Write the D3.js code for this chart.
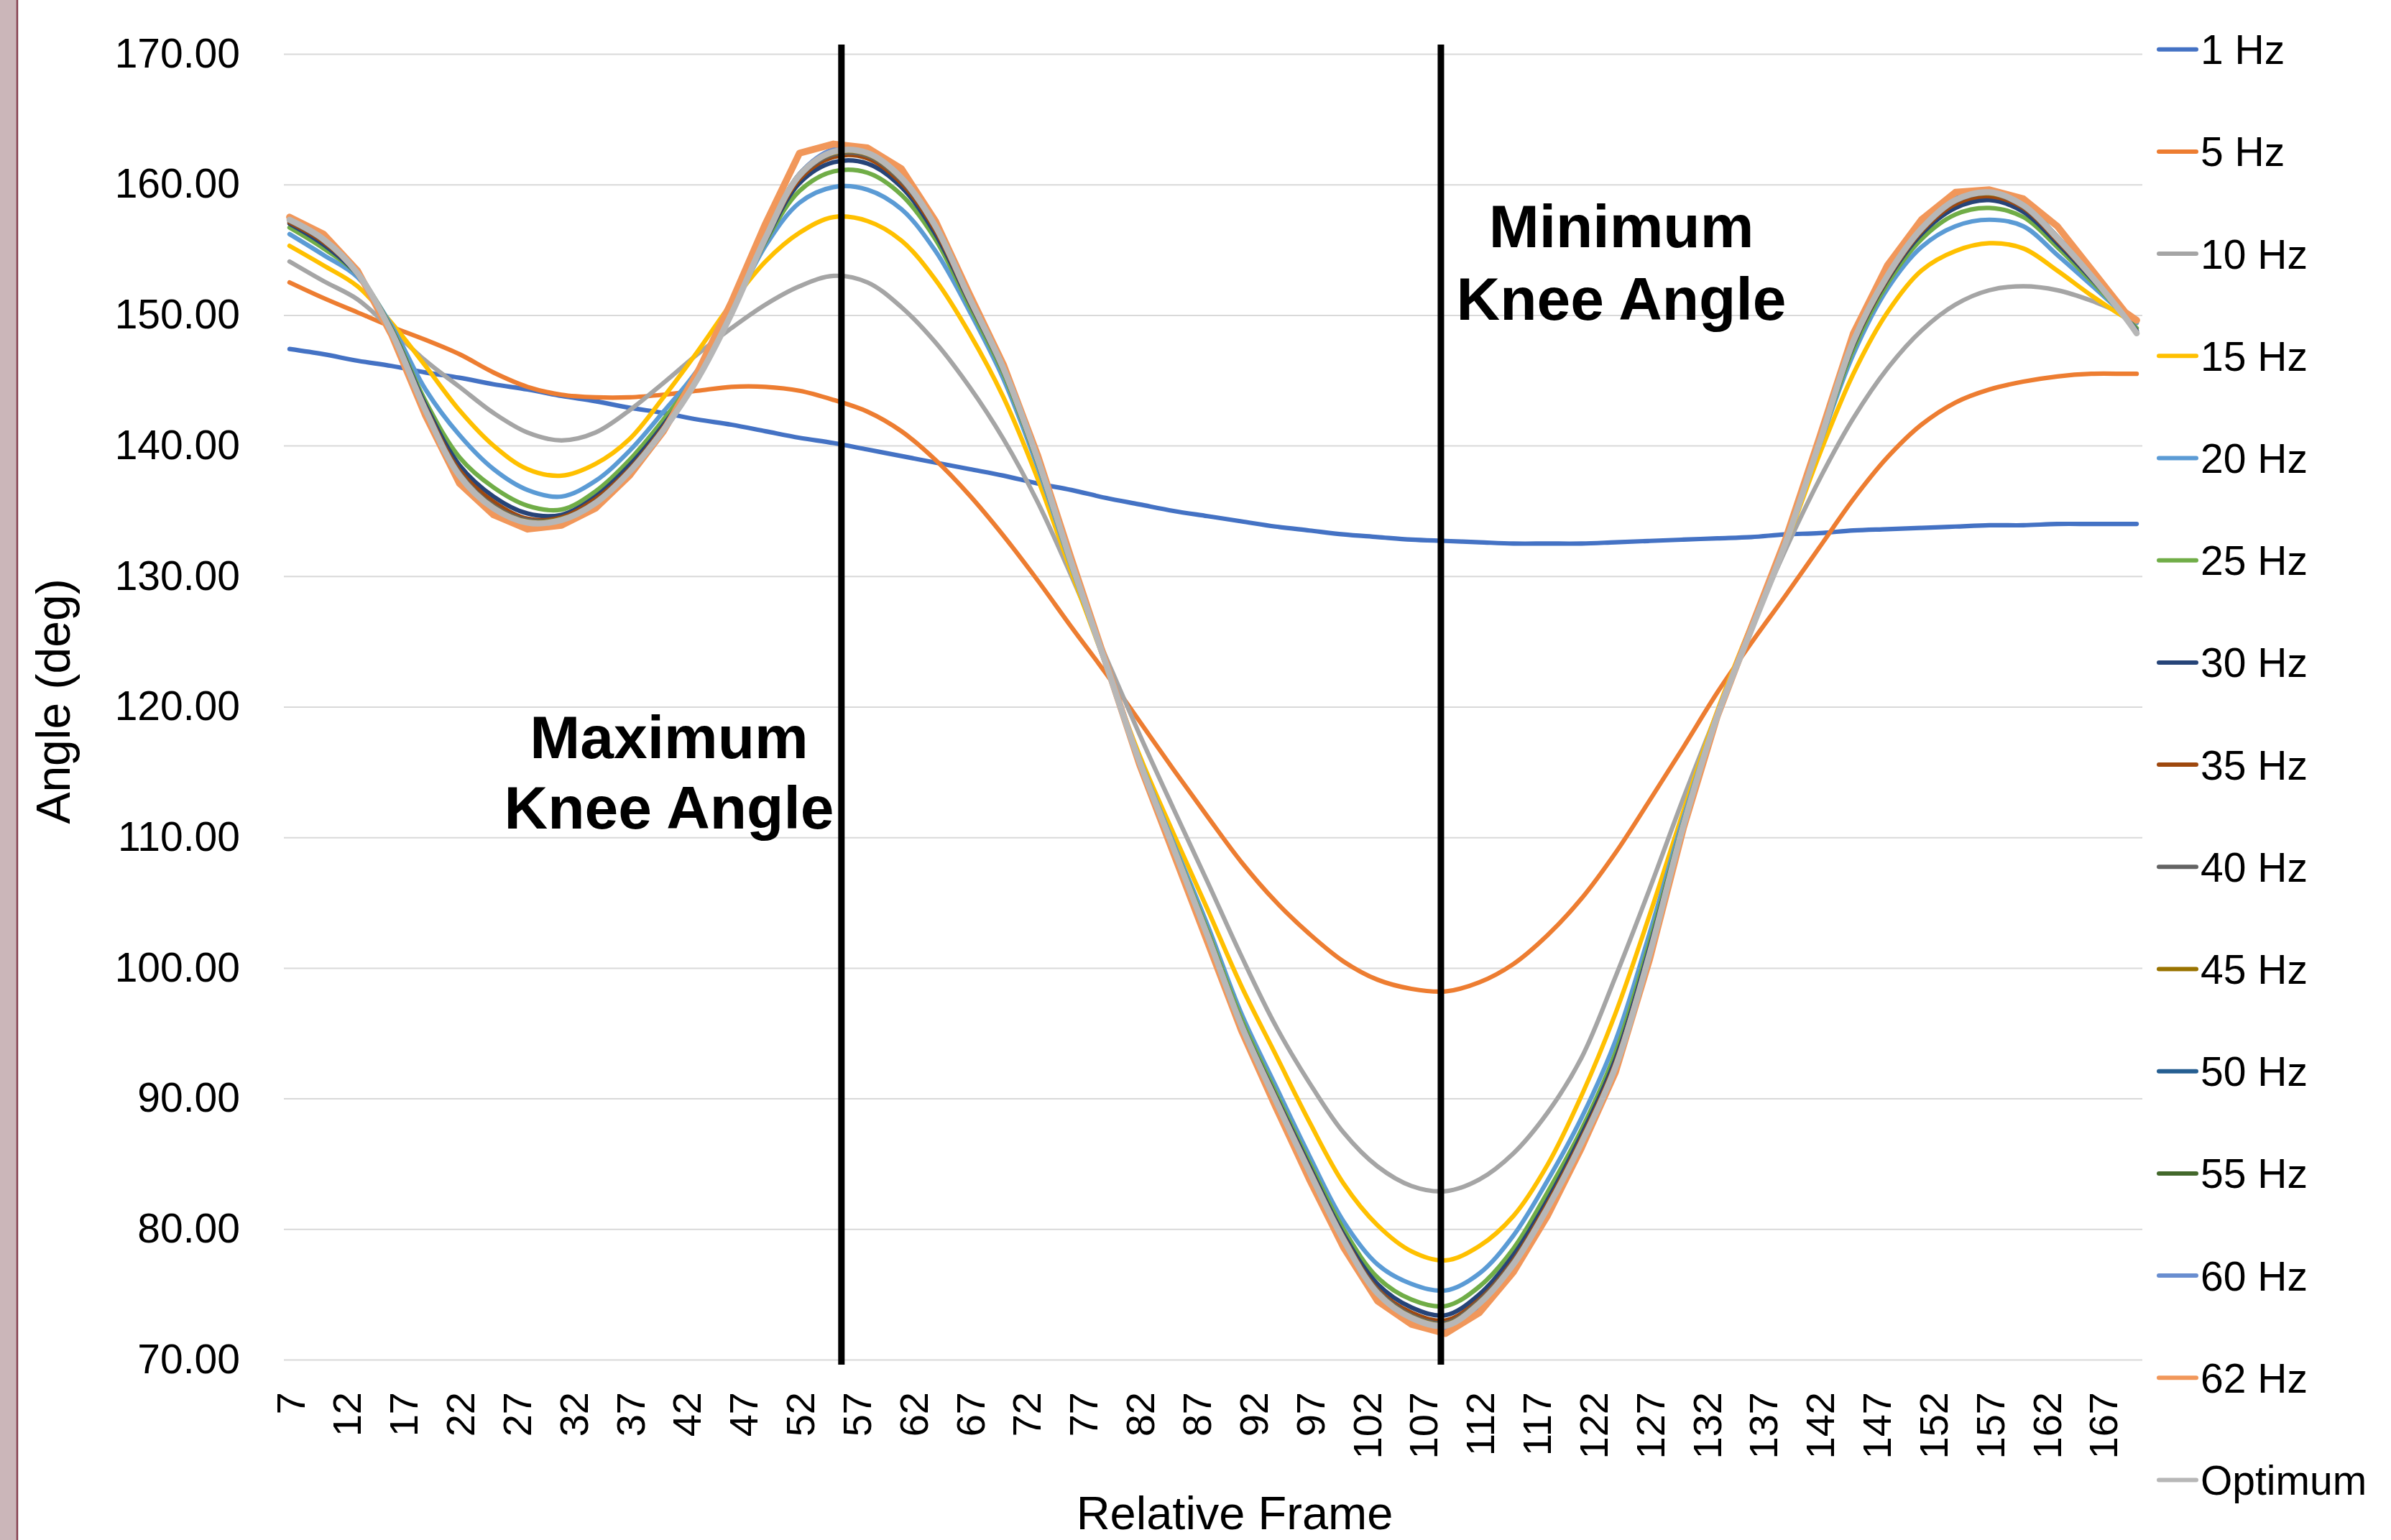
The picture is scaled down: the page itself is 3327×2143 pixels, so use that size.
<!DOCTYPE html>
<html><head><meta charset="utf-8">
<script src="https://cdn.jsdelivr.net/npm/d3@7"></script>
<style>html,body{margin:0;padding:0;background:#fff;} svg{display:block;}</style>
</head><body>
<svg id="c" width="3327" height="2143"></svg>
<script>
// ---------- DATA ----------
const frames = [7,10,13,16,19,22,25,28,31,34,37,40,43,46,49,52,55,58,61,64,67,70,73,76,79,82,85,88,91,94,97,100,103,106,109,112,115,118,121,124,127,130,133,136,139,142,145,148,151,154,157,160,163,166,169,170];

const hz1  = [147.4,147.0,146.5,146.1,145.6,145.2,144.7,144.3, 143.8,143.4,142.9,142.5,142.0,141.6,141.1,140.6, 140.2,139.7,139.2,138.7,138.2,137.7,137.1,136.6, 136.0,135.5,135.0,134.6,134.2,133.8,133.5,133.2, 133.0,132.8,132.7,132.6,132.5,132.5,132.5,132.6, 132.7,132.8,132.9,133.0,133.2,133.3,133.5,133.6, 133.7,133.8,133.9,133.9,134.0,134.0, 134.0,134.0];
const hz5  = [152.5,151.3,150.2,149.1,148.1,147.0,145.6,144.5, 143.9,143.7,143.7,143.9,144.2,144.5,144.5,144.2, 143.5,142.6,141.1,138.9,136.2,133.1,129.7,126.1, 122.6,118.9,115.2,111.6,108.1,105.1,102.6,100.5, 99.1,98.4,98.2,98.9,100.3,102.5,105.3,108.8, 112.8,116.9,121.1,124.9,128.5,132.2,135.9,139.1, 141.6,143.3,144.3,144.9,145.3,145.5, 145.5,145.5];
const hz10 = [154.1,152.6,151.2,148.9,146.5,144.5,142.5,141.0, 140.4,141.0,142.7,144.8,147.0,149.0,150.8,152.2, 153.0,152.5,150.6,147.9,144.5,140.5,135.7,130.0, 123.9,117.9,112.2,106.6,100.9,95.6,91.2,87.4, 84.8,83.3,82.9,83.8,85.8,88.9,93.1,99.3, 106.0,113.0,119.6,126.0,132.0,137.4,142.1,145.9, 148.8,150.8,151.9,152.2,151.9,151.1, 150.0,149.6];
const hz15 = [155.3,153.8,152.2,149.4,146.1,142.7,140.0,138.2, 137.7,138.6,140.5,143.7,147.2,150.9,154.1,156.3, 157.5,157.2,155.7,152.7,148.6,143.7,137.5,130.3, 123.3,116.3,110.3,104.5,98.6,93.4,88.2,83.5, 80.3,78.3,77.6,78.7,81.0,84.9,90.2,96.5, 104.0,112.0,119.7,126.3,132.4,139.3,145.5,150.2, 153.4,154.9,155.5,155.1,153.4,151.5, 149.8,149.4];
const hz20 = [156.2,154.6,152.9,149.2,144.3,140.8,138.2,136.6, 136.1,137.3,139.6,142.6,145.8,150.3,155.3,158.6, 159.8,159.6,158.1,154.9,150.3,145.1,138.4,130.7, 123.3,116.0,109.6,103.3,96.5,91.0,85.6,80.6, 77.3,75.8,75.3,76.6,79.5,83.7,88.5,94.4, 102.6,111.5,119.4,126.1,132.5,140.0,147.0,152.0, 155.2,156.8,157.3,156.8,154.6,152.3, 150.0,149.4];
const hz25 = [156.7,155.1,153.1,149.0,143.4,139.1,136.8,135.4, 135.1,136.5,138.9,142.0,145.5,150.2,155.6,159.5, 161.0,160.9,159.2,155.8,150.7,145.5,138.7,130.8, 123.3,115.9,109.4,102.9,96.1,90.5,85.1,80.0, 76.3,74.6,74.1,75.6,78.5,82.8,87.6,93.5, 101.9,111.2,119.4,126.0,132.5,140.1,147.4,152.4, 155.8,157.7,158.2,157.5,155.2,152.6, 149.9,149.0];
const hz30 = [157.0,155.4,153.1,148.9,143.1,138.5,136.1,134.8, 134.7,136.1,138.5,141.6,145.3,150.2,155.7,160.1, 161.7,161.6,159.8,156.2,151.0,145.7,138.8,130.9, 123.4,115.9,109.3,102.7,95.8,90.2,84.8,79.6, 75.8,74.0,73.4,75.0,78.0,82.2,87.2,93.0, 101.5,111.1,119.3,126.0,132.5,140.1,147.7,152.7, 156.2,158.2,158.8,157.9,155.5,152.8, 149.9,148.8];
const hz35 = [157.1,155.6,153.2,148.8,142.9,138.1,135.7,134.4, 134.5,135.9,138.2,141.4,145.2,150.1,155.8,160.4, 162.1,162.0,160.1,156.5,151.1,145.8,138.9,131.0, 123.4,115.8,109.3,102.6,95.7,90.1,84.6,79.4, 75.4,73.6,73.0,74.6,77.6,81.9,86.9,92.7, 101.2,111.0,119.3,125.9,132.5,140.2,147.8,152.8, 156.4,158.5,159.1,158.2,155.7,152.9, 149.8,148.7];
const hz40 = [157.2,155.7,153.2,148.7,142.8,137.9,135.4,134.3, 134.4,135.7,138.1,141.3,145.1,150.1,155.9,160.6, 162.3,162.2,160.3,156.7,151.2,145.8,139.0,131.0, 123.4,115.8,109.2,102.6,95.6,90.0,84.5,79.3, 75.3,73.4,72.8,74.5,77.5,81.7,86.7,92.5, 101.1,110.9,119.3,125.9,132.5,140.2,147.9,152.9, 156.5,158.7,159.3,158.3,155.8,153.0, 149.8,148.7];
const hz45 = [157.3,155.8,153.2,148.7,142.7,137.8,135.3,134.2, 134.4,135.6,138.0,141.2,145.1,150.1,155.9,160.7, 162.4,162.3,160.4,156.8,151.3,145.9,139.0,131.0, 123.4,115.8,109.2,102.5,95.6,89.9,84.4,79.2, 75.2,73.3,72.7,74.4,77.4,81.6,86.6,92.4, 101.0,110.9,119.3,125.9,132.5,140.2,148.0,153.0, 156.6,158.8,159.3,158.4,155.9,153.0, 149.8,148.6];
const hz50 = [157.3,155.8,153.2,148.7,142.7,137.7,135.2,134.1, 134.3,135.6,138.0,141.2,145.1,150.1,155.9,160.7, 162.5,162.4,160.5,156.8,151.3,145.9,139.0,131.0, 123.4,115.8,109.2,102.5,95.5,89.9,84.4,79.2, 75.1,73.2,72.6,74.3,77.3,81.6,86.6,92.4, 101.0,110.9,119.3,125.9,132.5,140.2,148.0,153.0, 156.6,158.8,159.4,158.4,155.9,153.0, 149.8,148.6];
const hz55 = [157.4,155.9,153.2,148.7,142.7,137.6,135.1,134.0, 134.2,135.5,137.9,141.2,145.1,150.1,156.0,160.8, 162.6,162.5,160.6,156.9,151.3,145.9,139.0,131.0, 123.4,115.8,109.2,102.5,95.5,89.9,84.4,79.2, 75.0,73.1,72.5,74.2,77.2,81.5,86.5,92.3, 101.0,110.9,119.3,125.9,132.5,140.2,148.0,153.0, 156.6,158.9,159.5,158.5,156.0,153.0, 149.8,148.6];
const hz60 = [157.4,155.9,153.2,148.7,142.6,137.5,135.0,133.9, 134.2,135.5,137.9,141.1,145.1,150.1,156.0,160.8, 162.7,162.6,160.7,156.9,151.4,146.0,139.0,131.0, 123.4,115.8,109.2,102.4,95.4,89.8,84.3,79.1, 75.0,73.0,72.4,74.1,77.1,81.4,86.5,92.3, 100.9,110.9,119.3,125.9,132.5,140.2,148.1,153.1, 156.7,158.9,159.5,158.5,156.0,153.1, 149.8,148.6];
const hz62 = [157.5,156.2,153.4,148.5,142.3,137.1,134.7,133.6, 133.9,135.2,137.7,141.1,145.6,151.0,157.0,162.4, 163.1,162.8,161.2,157.2,151.6,146.2,139.3,131.3, 123.5,115.6,108.8,102.0,95.2,89.4,83.8,78.6, 74.5,72.7,72.0,73.6,76.7,81.0,86.2,92.0, 100.6,110.7,119.3,126.1,132.8,140.6,148.6,153.8, 157.3,159.4,159.6,158.9,156.8,153.5, 150.2,149.6];
const optimum = [157.3,155.8,153.2,148.7,142.7,137.7,135.2,134.1, 134.3,135.6,138.0,141.2,145.1,150.1,155.9,160.7, 162.5,162.4,160.5,156.8,151.3,145.9,139.0,131.0, 123.4,115.8,109.2,102.5,95.6,89.9,84.4,79.2, 75.1,73.2,72.6,74.3,77.3,81.6,86.6,92.4, 101.0,110.9,119.3,125.9,132.5,140.2,148.0,153.0, 156.6,158.8,159.4,158.4,155.9,153.0, 149.8,148.6];

const seriesNames  = ["1 Hz","5 Hz","10 Hz","15 Hz","20 Hz","25 Hz","30 Hz","35 Hz","40 Hz","45 Hz","50 Hz","55 Hz","60 Hz","62 Hz","Optimum"];
const seriesValues = [hz1,hz5,hz10,hz15,hz20,hz25,hz30,hz35,hz40,hz45,hz50,hz55,hz60,hz62,optimum];
const seriesColors = ["#4472C4","#ED7D31","#A5A5A5","#FFC000","#5B9BD5","#70AD47","#264478","#9E480E","#636363","#997300","#255E91","#43682B","#698ED0","#F1975A","#B7B7B7"];

const yTicks = [70,80,90,100,110,120,130,140,150,160,170];
const xTicks = [7,12,17,22,27,32,37,42,47,52,57,62,67,72,77,82,87,92,97,102,107,112,117,122,127,132,137,142,147,152,157,162,167];
const markerFrames = [55.7,108.6];
const annoLines = [["Maximum","Knee Angle"],["Minimum","Knee Angle"]];

// ---------- LAYOUT ----------
const FONT = "'Liberation Sans', Arial, sans-serif";
const P = {left:395, right:2981, top:75, bottom:1892};
const svg = d3.select("#c");
const x = d3.scaleLinear().domain([6.5,170.5]).range([P.left,P.right]);
const y = d3.scaleLinear().domain([70,170]).range([P.bottom,P.top]);

// left strip
svg.append("rect").attr("x",0).attr("y",0).attr("width",23).attr("height",2143).attr("fill","#cbb6b9");
svg.append("line").attr("x1",24).attr("x2",24).attr("y1",0).attr("y2",2143).attr("stroke","#85404f").attr("stroke-width",2.5);

// gridlines
const grid = svg.append("g").attr("transform",`translate(${P.left},0)`)
  .call(d3.axisLeft(y).tickValues(yTicks).tickSize(-(P.right-P.left)).tickFormat(""));
grid.select(".domain").remove();
grid.selectAll("line").attr("stroke","#d9d9d9").attr("stroke-width",2);

// y labels
const ya = svg.append("g").attr("transform",`translate(${P.left},0)`)
  .call(d3.axisLeft(y).tickValues(yTicks).tickSize(0).tickPadding(61).tickFormat(d3.format(".2f")));
ya.select(".domain").remove();
ya.selectAll("text").attr("font-family",FONT).attr("font-size",57).attr("fill","#000");

// x labels
const xa = svg.append("g").attr("transform",`translate(0,${P.bottom})`)
  .call(d3.axisBottom(x).tickValues(xTicks).tickSize(0).tickFormat(d3.format("d")));
xa.select(".domain").remove();
xa.selectAll("text").attr("font-family",FONT).attr("font-size",56).attr("fill","#000")
  .attr("transform","rotate(-90)").attr("x",-45).attr("y",0).attr("dy","0.36em").style("text-anchor","end");

// series
const lineSmooth = d3.line().x((d,i)=>x(frames[i])).y(d=>y(d)).curve(d3.curveCatmullRom.alpha(0.5));
const lineStraight = d3.line().x((d,i)=>x(frames[i])).y(d=>y(d)).curve(d3.curveLinear);
seriesValues.forEach((vals,k)=>{
  const name = seriesNames[k];
  const w = name==="62 Hz" ? 9.5 : (name==="Optimum" ? 8.5 : 6.2);
  svg.append("path").attr("d",(name==="62 Hz"?lineStraight:lineSmooth)(vals))
    .attr("fill","none").attr("stroke",seriesColors[k]).attr("stroke-width",w)
    .attr("stroke-linejoin","round").attr("stroke-linecap","round");
});

// marker lines
markerFrames.forEach(f=>{
  svg.append("line").attr("x1",x(f)).attr("x2",x(f)).attr("y1",62).attr("y2",1899)
    .attr("stroke","#000").attr("stroke-width",9);
});

// annotations
const annoPos = [{cx:931, b:[1055,1153]},{cx:2256, b:[344,445]}];
annoLines.forEach((lines,k)=>{
  lines.forEach((t,j)=>{
    svg.append("text").attr("x",annoPos[k].cx).attr("y",annoPos[k].b[j]).attr("text-anchor","middle")
      .attr("font-family",FONT).attr("font-weight","bold").attr("font-size",84).attr("fill","#000").text(t);
  });
});

// legend
seriesNames.forEach((n,i)=>{
  const ly = 68.7 + i*142.2;
  svg.append("line").attr("x1",3004).attr("x2",3056).attr("y1",ly).attr("y2",ly)
    .attr("stroke",seriesColors[i]).attr("stroke-width",6).attr("stroke-linecap","round");
  svg.append("text").attr("x",3062).attr("y",ly).attr("dy","0.36em")
    .attr("font-family",FONT).attr("font-size",57).attr("fill","#000").text(n);
});

// axis titles
svg.append("text").attr("transform","translate(97,976) rotate(-90)").attr("text-anchor","middle")
  .attr("font-family",FONT).attr("font-size",66).attr("fill","#000").text("Angle (deg)");
svg.append("text").attr("x",1718).attr("y",2128).attr("text-anchor","middle")
  .attr("font-family",FONT).attr("font-size",65).attr("fill","#000").text("Relative Frame");
</script>
</body></html>
